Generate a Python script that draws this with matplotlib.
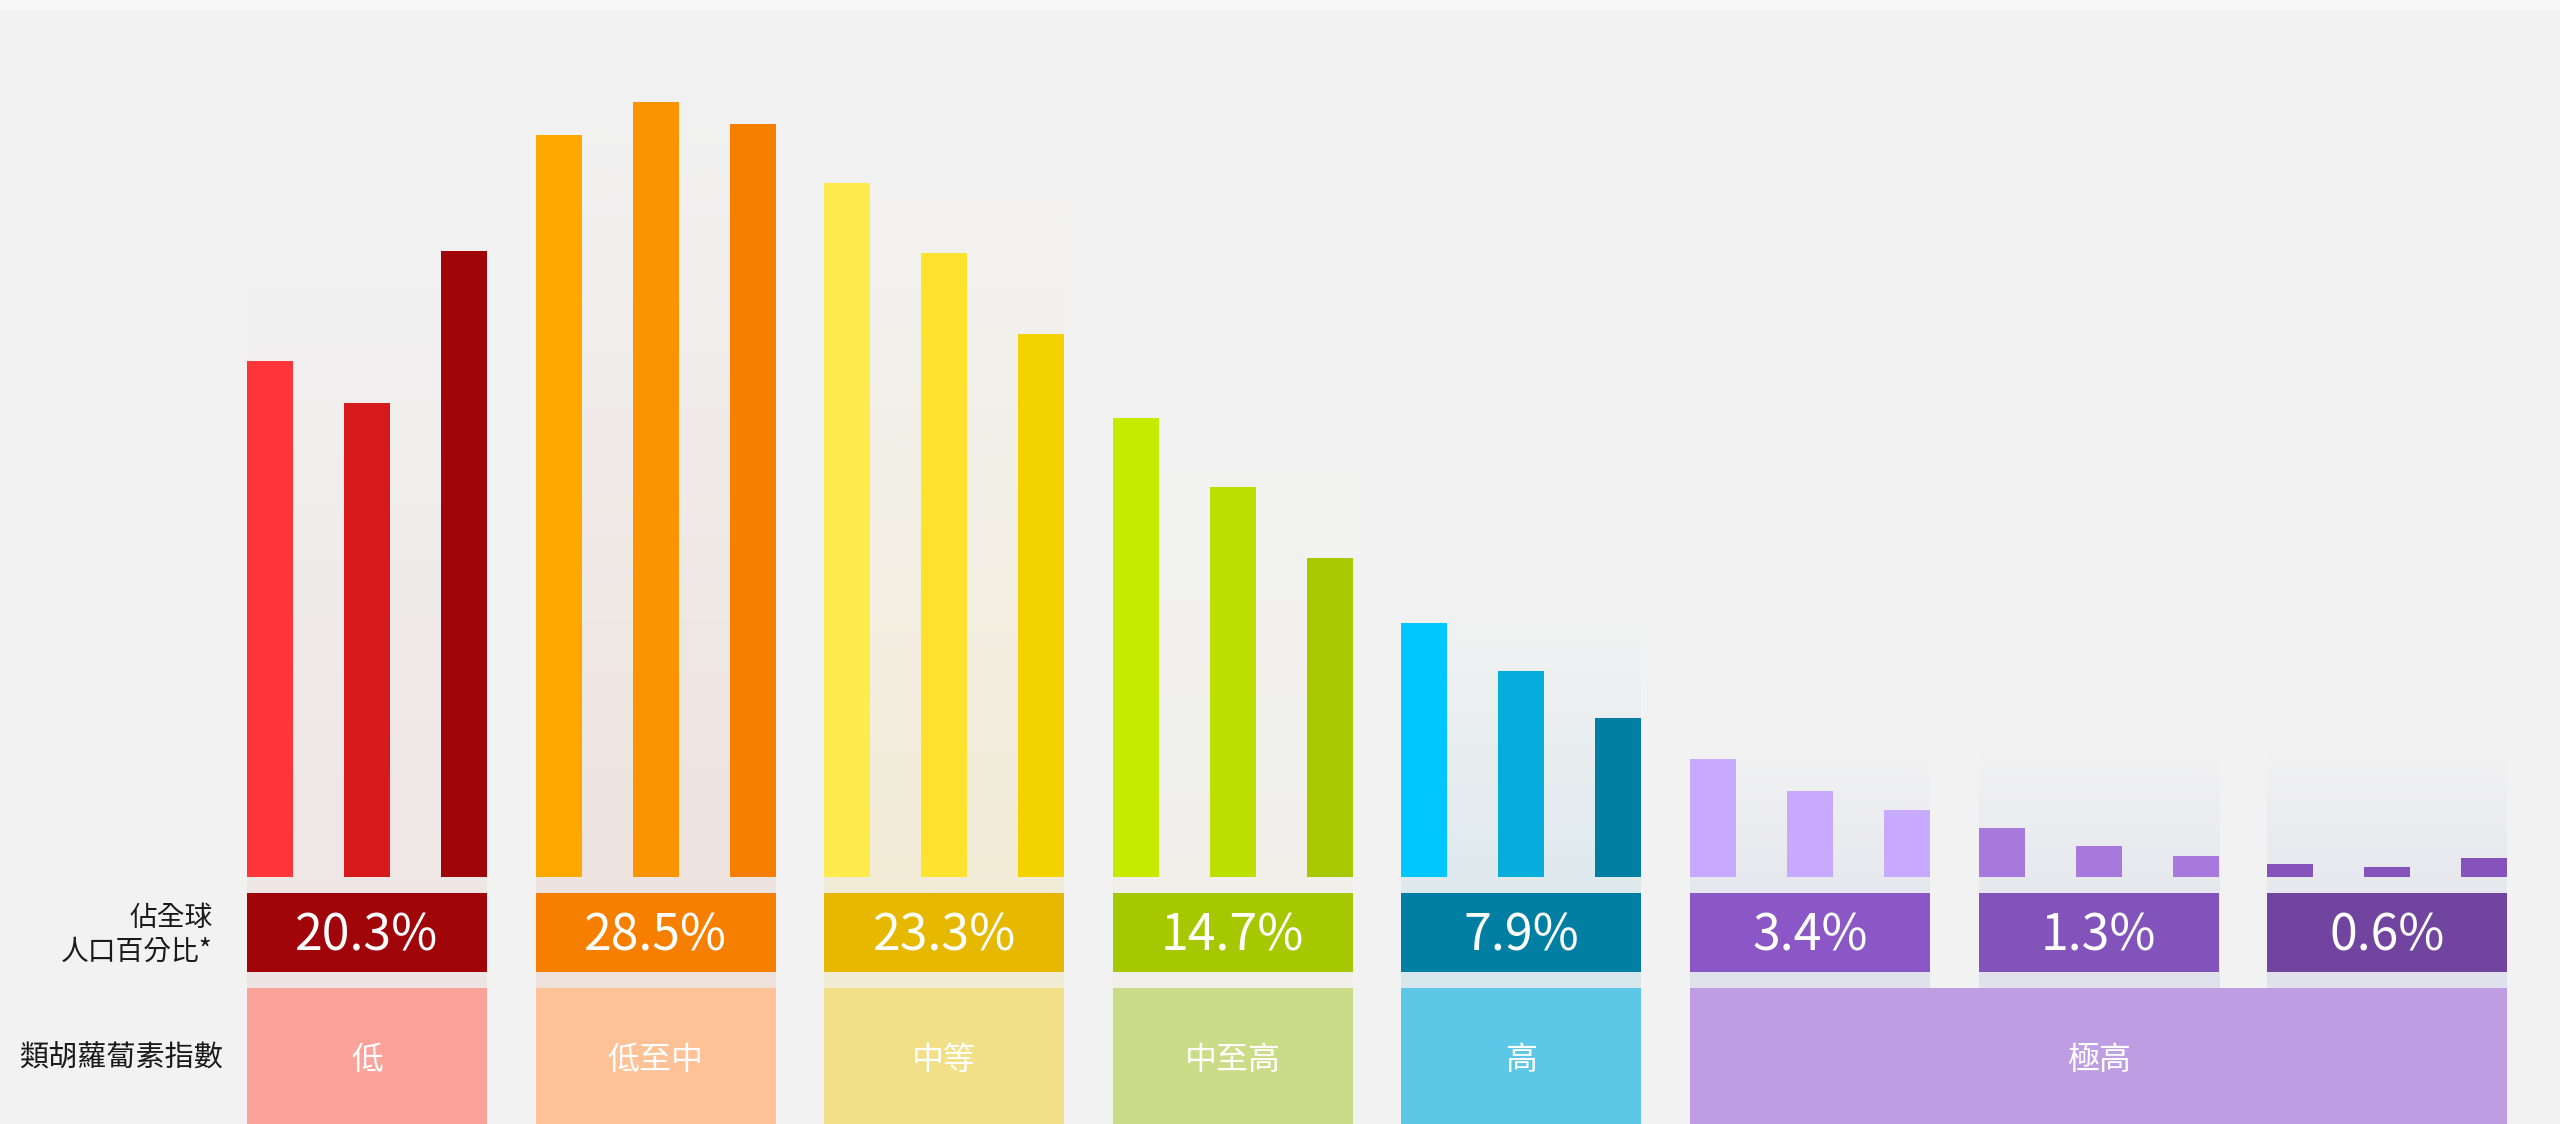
import numpy as np
import matplotlib
matplotlib.use("Agg")
import matplotlib.pyplot as plt
from matplotlib.colors import to_rgb

plt.rcParams['font.family'] = ['Noto Sans CJK TC', 'DejaVu Sans']

# data (bar heights in pixels of the original chart)
bar_values = [
    [516, 474, 626],
    [742, 775, 753],
    [694, 624, 543],
    [459, 390, 319],
    [254, 206, 159],
    [118, 86, 67],
    [49, 31, 21],
    [13, 10, 19],
]
share_labels = ['20.3%', '28.5%', '23.3%', '14.7%', '7.9%', '3.4%', '1.3%', '0.6%']
categories = ['低', '低至中', '中等', '中至高', '高', '極高']
category_groups = [[0], [1], [2], [3], [4], [5, 6, 7]]
row_label_share = '佔全球\n人口百分比*'
row_label_index = '類胡蘿蔔素指數'

# colours
bar_colors = [
    ['#FF353A', '#D8191C', '#A0050A'],
    ['#FFA800', '#FA9400', '#F77F00'],
    ['#FFEC4C', '#FFE22E', '#F3D200'],
    ['#C4EB00', '#BBE000', '#A8C900'],
    ['#00C7FF', '#05ADDD', '#007FA3'],
    ['#C7AAFD', '#C7AAFD', '#C7AAFD'],
    ['#A779DC', '#A779DC', '#A779DC'],
    ['#8652BB', '#8652BB', '#8652BB'],
]
share_colors = ['#A0050A', '#F77F00', '#E6B800', '#A6C800',
                '#007FA3', '#8B57C7', '#8253BB', '#71449F']
category_colors = ['#FBA398', '#FFC196', '#F1E088', '#CBDC88', '#5CC7E7', '#BE9DE2']
panel_tints = ['#EFE4E4', '#EEE1DC', '#F2EBD3', '#F0EFE9',
               '#D8E7ED', '#DFE1EC', '#DFE1EC', '#DFE1EC']
bg = '#F2F2F2'

# layout (pixel units, y pointing up)
W, H = 2560, 1124
x0, step = 247, 288.6
group_w = 240
bar_w = 46
bar_off = [0, 97, 194]
base = 247
share_box = (152, 231)
cat_top = 136

fig = plt.figure(figsize=(W / 100, H / 100), dpi=100, facecolor=bg)
ax = fig.add_axes([0, 0, 1, 1])
ax.set_xlim(0, W)
ax.set_ylim(0, H)
ax.axis('off')
ax.set_facecolor(bg)

# lighter strip at the very top
ax.axhspan(H - 10, H, color='#F6F6F6', lw=0, zorder=0)

lefts = [x0 + i * step for i in range(len(bar_values))]

# gradient panels behind each group
for ci, groups in enumerate(category_groups):
    top = base + max(max(bar_values[g]) for g in groups) + 12
    for g in groups:
        c_top = np.array(to_rgb(bg))
        c_bot = np.array(to_rgb(panel_tints[g]))
        t = np.linspace(0, 1, 256)[:, None]
        grad = (c_bot * (1 - t) + c_top * t)[:, None, :]
        ax.imshow(grad, extent=[lefts[g], lefts[g] + group_w, cat_top, top],
                  origin='lower', aspect='auto', interpolation='bilinear', zorder=1)

# bars
for g, vals in enumerate(bar_values):
    xs = [lefts[g] + o for o in bar_off]
    ax.bar(xs, vals, width=bar_w, bottom=base, align='edge',
           color=bar_colors[g], lw=0, zorder=2)

# share boxes
for g, lab in enumerate(share_labels):
    ax.bar(lefts[g], share_box[1] - share_box[0], width=group_w, bottom=share_box[0],
           align='edge', color=share_colors[g], lw=0, zorder=2)
    ax.text(lefts[g] + group_w / 2, (share_box[0] + share_box[1]) / 2 - 4, lab,
            color='white', fontsize=36, ha='center', va='center', zorder=3)

# category boxes
for ci, groups in enumerate(category_groups):
    left = lefts[groups[0]]
    right = lefts[groups[-1]] + group_w
    ax.bar(left, cat_top, width=right - left, bottom=0, align='edge',
           color=category_colors[ci], lw=0, zorder=2)
    ax.text((left + right) / 2, cat_top / 2 - 4, categories[ci], color='white',
            fontsize=23, ha='center', va='center', zorder=3)

# row labels
ax.text(213, (share_box[0] + share_box[1]) / 2 - 2, row_label_share, color='#1A1A1A',
        fontsize=20, ha='right', va='center', linespacing=1.15, zorder=3)
ax.text(223, cat_top / 2 - 3, row_label_index, color='#1A1A1A',
        fontsize=21, ha='right', va='center', zorder=3)

fig.savefig('out.png', dpi=100, facecolor=bg)
